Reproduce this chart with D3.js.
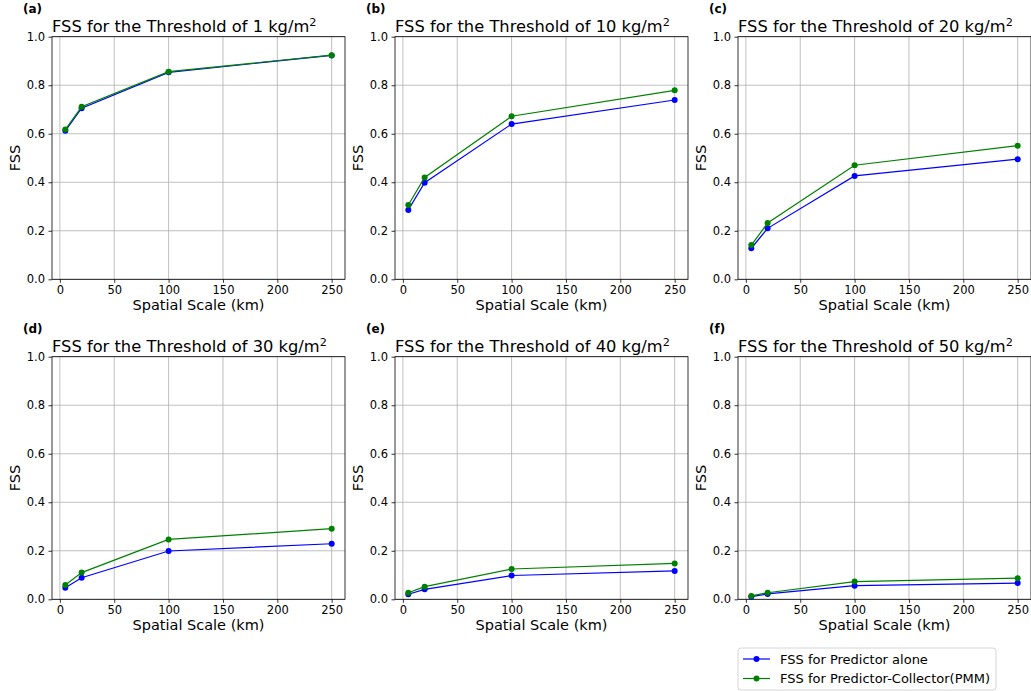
<!DOCTYPE html>
<html>
<head>
<meta charset="utf-8">
<script src="https://cdn.jsdelivr.net/npm/d3@7"></script>
<style>
  body { margin: 0; background: #fff; }
  svg { font-family: "DejaVu Sans", sans-serif; }
  .grid line { stroke: #b0b0b0; stroke-width: 0.8; }
  .tick text { fill: #000; }
</style>
</head>
<body>
<div id="chart"></div>
<script>
// spatial scales (km) shared by every panel
const scales = [5, 20, 100, 250];
const thresholds = [1, 10, 20, 30, 40, 50];
const panelLabels = ["(a)", "(b)", "(c)", "(d)", "(e)", "(f)"];

// FSS for predictor alone (blue)
const fssPredictor = [
    [0.612, 0.705, 0.853, 0.923],
    [0.286, 0.398, 0.640, 0.739],
    [0.128, 0.210, 0.426, 0.495],
    [0.048, 0.089, 0.199, 0.229],
    [0.021, 0.041, 0.098, 0.117],
    [0.011, 0.022, 0.056, 0.067],
];

// FSS for predictor-collector PMM (green)
const fssPMM = [
    [0.617, 0.711, 0.856, 0.924],
    [0.306, 0.420, 0.672, 0.779],
    [0.141, 0.232, 0.470, 0.551],
    [0.059, 0.110, 0.247, 0.291],
    [0.027, 0.052, 0.125, 0.148],
    [0.014, 0.027, 0.073, 0.087],
];

const xTicks = [0, 50, 100, 150, 200, 250];
const yTicks = [0, 0.2, 0.4, 0.6, 0.8, 1.0];

const seriesNames = ["FSS for Predictor alone", "FSS for Predictor-Collector(PMM)"];
const seriesColors = ["#0000ff", "#008000"];

const width = 1031, height = 691;
const svg = d3.select("#chart").append("svg")
    .attr("width", width)
    .attr("height", height);

const colLeft = [52, 395, 738];
const rowTop = [36.7, 356.7];
const pw = 293, ph = 242.6;

const x = d3.scaleLinear().domain([-7.25, 262.25]).range([0, pw]);
const y = d3.scaleLinear().domain([0, 1]).range([ph, 0]);

const line = d3.line()
    .x((d, i) => x(scales[i]))
    .y(d => y(d));

thresholds.forEach((t, k) => {
    const left = colLeft[k % 3], top = rowTop[Math.floor(k / 3)];
    const g = svg.append("g").attr("transform", `translate(${left},${top})`);

    // grid
    const grid = g.append("g").attr("class", "grid");
    grid.selectAll(".gx").data(xTicks).join("line")
        .attr("x1", d => x(d)).attr("x2", d => x(d))
        .attr("y1", 0).attr("y2", ph);
    grid.selectAll(".gy").data(yTicks).join("line")
        .attr("x1", 0).attr("x2", pw)
        .attr("y1", d => y(d)).attr("y2", d => y(d));

    // axes
    const xAxis = g.append("g").attr("transform", `translate(0,${ph})`)
        .call(d3.axisBottom(x).tickValues(xTicks).tickSize(3.5).tickPadding(3.5).tickSizeOuter(0));
    const yAxis = g.append("g")
        .call(d3.axisLeft(y).tickValues(yTicks).tickFormat(d3.format(".1f")).tickSize(3.5).tickPadding(3.5).tickSizeOuter(0));
    [xAxis, yAxis].forEach(a => {
        a.select(".domain").remove();
        a.selectAll("text").attr("font-size", 11.5).attr("font-family", "DejaVu Sans");
        a.selectAll("line").attr("stroke", "#000").attr("stroke-width", 0.8);
    });

    // frame
    g.append("rect")
        .attr("width", pw).attr("height", ph)
        .attr("fill", "none").attr("stroke", "#000").attr("stroke-width", 0.8);

    // series
    [fssPredictor[k], fssPMM[k]].forEach((vals, s) => {
        g.append("path")
            .datum(vals)
            .attr("fill", "none")
            .attr("stroke", seriesColors[s])
            .attr("stroke-width", 1.2)
            .attr("d", line);
        g.selectAll(".pt" + s).data(vals).join("circle")
            .attr("cx", (d, i) => x(scales[i]))
            .attr("cy", d => y(d))
            .attr("r", 3)
            .attr("fill", seriesColors[s]);
    });

    // title
    const title = g.append("text")
        .attr("x", 0).attr("y", -5)
        .attr("font-size", 16.3);
    title.append("tspan").text(`FSS for the Threshold of ${t} kg/m`);
    title.append("tspan").attr("font-size", 11.3).attr("dy", -6).text("2");

    g.append("text")
        .attr("x", -29).attr("y", -24)
        .attr("font-size", 12).attr("font-weight", "bold")
        .text(panelLabels[k]);

    g.append("text")
        .attr("transform", `translate(-32,${ph / 2}) rotate(-90)`)
        .attr("text-anchor", "middle")
        .attr("font-size", 14.5)
        .text("FSS");

    g.append("text")
        .attr("x", pw / 2).attr("y", ph + 31)
        .attr("text-anchor", "middle")
        .attr("font-size", 14.5)
        .text("Spatial Scale (km)");
});

// legend
const legend = svg.append("g").attr("transform", "translate(738,648)");
legend.append("rect")
    .attr("width", 258).attr("height", 42).attr("rx", 3)
    .attr("fill", "#fff").attr("stroke", "#cccccc").attr("stroke-width", 0.8);
seriesNames.forEach((name, s) => {
    const ly = 11 + s * 19.5;
    legend.append("line")
        .attr("x1", 5).attr("x2", 32).attr("y1", ly).attr("y2", ly)
        .attr("stroke", seriesColors[s]).attr("stroke-width", 1.2);
    legend.append("circle")
        .attr("cx", 18.5).attr("cy", ly).attr("r", 3)
        .attr("fill", seriesColors[s]);
    legend.append("text")
        .attr("x", 42).attr("y", ly + 4.5)
        .attr("font-size", 13)
        .text(name);
});
</script>
</body>
</html>
